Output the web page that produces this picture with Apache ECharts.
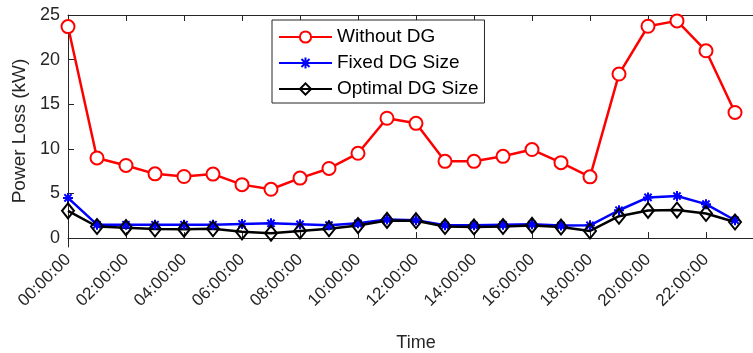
<!DOCTYPE html>
<html>
<head>
<meta charset="utf-8">
<script src="https://cdn.jsdelivr.net/npm/echarts@6/dist/echarts.min.js"></script>
<style>html,body{margin:0;padding:0;background:#fff;}#c{width:753px;height:353px;}</style>
</head>
<body>
<div id="c"></div>
<script>
const hours = [0,1,2,3,4,5,6,7,8,9,10,11,12,13,14,15,16,17,18,19,20,21,22,23];
const withoutDG = [23.7,8.98,8.14,7.2,6.9,7.17,5.99,5.47,6.72,7.8,9.5,13.43,12.86,8.6,8.6,9.16,9.92,8.45,6.86,18.38,23.74,24.34,20.99,14.08];
const fixedDG = [4.5,1.5,1.5,1.5,1.5,1.5,1.58,1.65,1.54,1.45,1.65,2.07,2.0,1.43,1.43,1.5,1.54,1.4,1.43,3.12,4.56,4.71,3.8,2.0];
const optimalDG = [3.05,1.3,1.17,1.02,1.0,1.05,0.7,0.55,0.8,1.05,1.4,1.98,1.95,1.3,1.25,1.3,1.42,1.24,0.8,2.45,3.1,3.14,2.75,1.8];
const yTicks = [0,5,10,15,20,25];
const seriesNames = ['Without DG','Fixed DG Size','Optimal DG Size'];
const xName = 'Time';
const yName = 'Power Loss (kW)';

const pair = arr => hours.map((h,i)=>[h,arr[i]]);
const fmt = v => (v<10?'0':'')+v+':00:00';
const axisCol = '#262626';
const font = 'Liberation Sans, Arial, Helvetica, sans-serif';
const asterisk = 'path://M0,-5L0,5M-5,0L5,0M-3.6,-3.6L3.6,3.6M-3.6,3.6L3.6,-3.6';

const chart = echarts.init(document.getElementById('c'));
chart.setOption({
  animation:false,
  backgroundColor:'#fff',
  grid:{left:68, top:15, right:-11, bottom:106, containLabel:false, outerBoundsMode:'none'},
  legend:{
    orient:'vertical', left:272, top:20,
    data:seriesNames,
    backgroundColor:'#fff', borderColor:axisCol, borderWidth:1,
    padding:[7,6,4,6], itemGap:6, itemWidth:53, itemHeight:14,
    textStyle:{fontFamily:font, fontSize:19, color:'#000', lineHeight:20}
  },
  xAxis:[{
    type:'value', min:0, max:24, interval:2,
    name:xName, nameLocation:'middle', nameGap:87,
    nameTextStyle:{fontFamily:font, fontSize:18, color:axisCol},
    axisLine:{show:true, lineStyle:{color:axisCol, width:1}},
    axisTick:{show:true, inside:true, length:6, lineStyle:{color:axisCol}},
    axisLabel:{rotate:45, margin:10, fontFamily:font, fontSize:17, color:axisCol, formatter:fmt, showMaxLabel:false},
    splitLine:{show:false}
  },{
    type:'value', min:0, max:24, interval:2, position:'top',
    axisLine:{show:true, onZero:false, lineStyle:{color:axisCol, width:1}},
    axisTick:{show:true, inside:true, length:6, lineStyle:{color:axisCol}},
    axisLabel:{show:false}, splitLine:{show:false}
  }],
  yAxis:{
    type:'value', min:-1, max:25,
    name:yName, nameLocation:'middle', nameGap:36,
    nameTextStyle:{fontFamily:font, fontSize:19, color:axisCol},
    axisLine:{show:true, onZero:false, lineStyle:{color:axisCol, width:1}},
    axisTick:{show:true, inside:true, length:6, customValues:yTicks, lineStyle:{color:axisCol}},
    axisLabel:{margin:8, fontFamily:font, fontSize:18, color:axisCol, customValues:yTicks},
    splitLine:{show:false}
  },
  series:[{
    name:seriesNames[0], type:'line', data:pair(withoutDG),
    symbol:'emptyCircle', symbolSize:13,
    lineStyle:{color:'#ff0000', width:2.5},
    itemStyle:{color:'#ff0000', borderColor:'#ff0000', borderWidth:2}
  },{
    name:seriesNames[1], type:'line', data:pair(fixedDG),
    symbol:asterisk, symbolSize:10,
    lineStyle:{color:'#0000ff', width:2.5},
    itemStyle:{color:'#0000ff', borderColor:'#0000ff', borderWidth:2}
  },{
    name:seriesNames[2], type:'line', data:pair(optimalDG),
    symbol:'diamond', symbolSize:[12,15],
    lineStyle:{color:'#000000', width:2.5},
    itemStyle:{color:'rgba(0,0,0,0)', borderColor:'#000000', borderWidth:2}
  }]
});
</script>
</body>
</html>
